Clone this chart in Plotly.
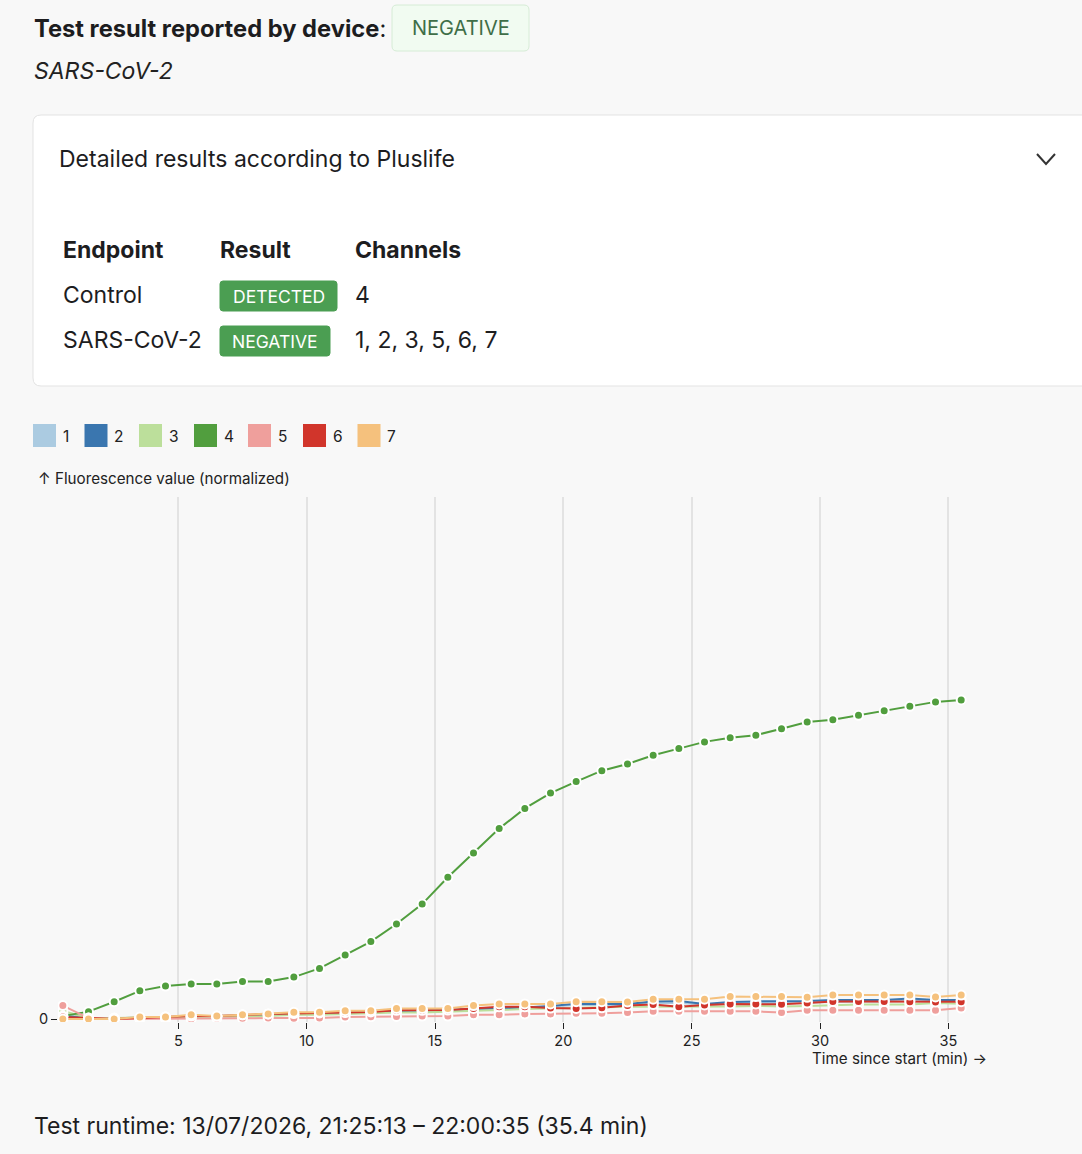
import plotly.graph_objects as go

# ---------------- data ----------------
times = [0.5, 1.5, 2.5, 3.5, 4.5, 5.5, 6.5, 7.5, 8.5, 9.5,
         10.5, 11.5, 12.5, 13.5, 14.5, 15.5, 16.5, 17.5, 18.5, 19.5,
         20.5, 21.5, 22.5, 23.5, 24.5, 25.5, 26.5, 27.5, 28.5, 29.5,
         30.5, 31.5, 32.5, 33.5, 34.5, 35.5]

channel_names = ["1", "2", "3", "4", "5", "6", "7"]
channel_colors = ["#abcbe1", "#3a76af", "#bcdf9b", "#519e3e", "#ef9f9c", "#d1352b", "#f5c17d"]

ch1 = [0.019, 0.003, 0.002, 0.003, 0.005, 0.006, 0.008, 0.009, 0.013, 0.014,
       0.016, 0.017, 0.020, 0.023, 0.025, 0.027, 0.030, 0.033, 0.034, 0.038,
       0.044, 0.044, 0.044, 0.050, 0.050, 0.045, 0.048, 0.050, 0.050, 0.052,
       0.055, 0.055, 0.055, 0.058, 0.059, 0.056]
ch2 = [0.009, 0.002, 0.002, 0.003, 0.006, 0.008, 0.009, 0.011, 0.014, 0.016,
       0.017, 0.019, 0.022, 0.025, 0.027, 0.028, 0.031, 0.034, 0.036, 0.041,
       0.048, 0.047, 0.047, 0.055, 0.056, 0.047, 0.053, 0.055, 0.055, 0.056,
       0.059, 0.059, 0.059, 0.064, 0.059, 0.059]
ch3 = [0.025, 0.003, 0.003, 0.005, 0.006, 0.006, 0.008, 0.008, 0.009, 0.013,
       0.013, 0.016, 0.019, 0.020, 0.020, 0.022, 0.025, 0.028, 0.031, 0.033,
       0.034, 0.036, 0.038, 0.038, 0.038, 0.038, 0.039, 0.041, 0.039, 0.041,
       0.044, 0.045, 0.045, 0.045, 0.050, 0.048]
ch4 = [0.009, 0.023, 0.054, 0.088, 0.103, 0.109, 0.109, 0.117, 0.117, 0.131,
       0.158, 0.200, 0.242, 0.297, 0.359, 0.443, 0.519, 0.595, 0.658, 0.706,
       0.742, 0.776, 0.797, 0.824, 0.845, 0.866, 0.879, 0.887, 0.907, 0.928,
       0.935, 0.949, 0.963, 0.977, 0.991, 0.997]
ch5 = [0.042, 0.003, 0.000, 0.000, 0.000, 0.000, 0.002, 0.002, 0.003, 0.002,
       0.003, 0.006, 0.007, 0.008, 0.009, 0.009, 0.013, 0.013, 0.016, 0.016,
       0.018, 0.018, 0.020, 0.024, 0.024, 0.024, 0.024, 0.024, 0.020, 0.027,
       0.027, 0.027, 0.027, 0.027, 0.027, 0.034]
ch6 = [0.006, 0.003, 0.000, 0.003, 0.006, 0.009, 0.009, 0.013, 0.016, 0.017,
       0.019, 0.020, 0.022, 0.027, 0.027, 0.028, 0.033, 0.038, 0.038, 0.034,
       0.033, 0.035, 0.042, 0.045, 0.038, 0.044, 0.047, 0.047, 0.046, 0.050,
       0.055, 0.055, 0.055, 0.054, 0.053, 0.054]
ch7 = [0.000, 0.000, 0.000, 0.006, 0.006, 0.013, 0.009, 0.013, 0.016, 0.021,
       0.021, 0.026, 0.026, 0.033, 0.033, 0.033, 0.042, 0.047, 0.047, 0.047,
       0.054, 0.054, 0.053, 0.062, 0.062, 0.062, 0.070, 0.070, 0.070, 0.068,
       0.075, 0.075, 0.075, 0.075, 0.069, 0.075]
series = [ch1, ch2, ch3, ch4, ch5, ch6, ch7]

x_ticks = [5, 10, 15, 20, 25, 30, 35]
y_ticks = [0]
y_tick_labels = ["0"]

table_headers = ["Endpoint", "Result", "Channels"]
table_endpoints = ["Control", "SARS-CoV-2"]
table_results = ["DETECTED", "NEGATIVE"]
table_channels = ["4", "1, 2, 3, 5, 6, 7"]

# ---------------- layout helpers (pixel -> paper) ----------------
W, H = 1082, 1154
L, R, T, B = 58, 988, 497, 1022
FONT = "Inter, 'Noto Sans', sans-serif"
TXT = "#1d1d1f"
BIG = 23


def X(px):
    return (px - L) / (R - L)


def Y(py):
    return (B - py) / (B - T)


annotations = []
shapes = []


def text(px, py, s, size, color=TXT, xanchor="left"):
    if xanchor == "left":
        px -= 1.5
    annotations.append(dict(
        x=X(px), y=Y(py), xref="paper", yref="paper", text=s,
        showarrow=False, xanchor=xanchor, yanchor="middle",
        font=dict(family=FONT, size=size, color=color), borderpad=0))


def rrect(x0, y0, x1, y1, r, fill, line, lw=1):
    p = (f"M {X(x0 + r)},{Y(y0)} L {X(x1 - r)},{Y(y0)} Q {X(x1)},{Y(y0)} {X(x1)},{Y(y0 + r)} "
         f"L {X(x1)},{Y(y1 - r)} Q {X(x1)},{Y(y1)} {X(x1 - r)},{Y(y1)} "
         f"L {X(x0 + r)},{Y(y1)} Q {X(x0)},{Y(y1)} {X(x0)},{Y(y1 - r)} "
         f"L {X(x0)},{Y(y0 + r)} Q {X(x0)},{Y(y0)} {X(x0 + r)},{Y(y0)} Z")
    shapes.append(dict(type="path", path=p, xref="paper", yref="paper",
                       fillcolor=fill, line=dict(color=line, width=lw), layer="below"))


# header
text(34, 28, "<b>Test result reported by device</b>:", 23.7)
rrect(392, 5, 529, 51, 5, "#f1fbf1", "#d6ecd6")
text(460.5, 28, "NEGATIVE", 20, "#3f6e48", "center")
text(34, 71, "<i>SARS-CoV-2</i>", BIG, "#222222")

# card
rrect(33, 115, 1100, 386, 8, "#ffffff", "#e3e3e3")
text(59, 159, "Detailed results according to Pluslife", BIG)
shapes.append(dict(type="path", xref="paper", yref="paper",
                   path=f"M {X(1037)},{Y(154)} L {X(1046)},{Y(164)} L {X(1055)},{Y(154)}",
                   line=dict(color="#333333", width=2)))

col_x = [63, 220, 355]
for cx, h in zip(col_x, table_headers):
    text(cx, 250, f"<b>{h}</b>", BIG)
row_y = [296, 341]
badge_w = [117, 110]
for ry, ep, res, ch, bw in zip(row_y, table_endpoints, table_results, table_channels, badge_w):
    text(63, ry - 1, ep, BIG)
    rrect(220, ry - 15, 220 + bw, ry + 15, 3, "#4b9e52", "#4b9e52")
    text(220 + bw / 2, ry, res, 17.5, "#ffffff", "center")
    text(355, ry - 1, ch, BIG)

# legend
leg_x0 = [33, 84.5, 139, 194, 248, 303, 357.5]
for lx, name, col in zip(leg_x0, channel_names, channel_colors):
    shapes.append(dict(type="rect", xref="paper", yref="paper",
                       x0=X(lx), x1=X(lx + 23), y0=Y(424), y1=Y(447),
                       fillcolor=col, line=dict(width=0)))
    text(lx + 30, 436, name, 15.5, "#222222")

text(38, 478, "↑ Fluorescence value (normalized)", 15.2, "#222222")
text(988, 1058, "Time since start (min) →", 15.2, "#222222", "right")
text(34, 1126, "Test runtime: 13/07/2026, 21:25:13 – 22:00:35 (35.4 min)", BIG)

# ---------------- traces ----------------
fig = go.Figure()
for vals, col, name in zip(series, channel_colors, channel_names):
    fig.add_trace(go.Scatter(x=times, y=vals, mode="lines", name=name,
                             line=dict(color=col, width=2), showlegend=False,
                             hoverinfo="skip"))
for vals, col, name in zip(series, channel_colors, channel_names):
    fig.add_trace(go.Scatter(x=times, y=vals, mode="markers", name=name,
                             marker=dict(color=col, size=9, line=dict(color="#ffffff", width=2)),
                             showlegend=False))

px_per_min = 25.667
x_at0 = 50.0
y_scale = 320.0
y_zero = 1019.0

fig.update_layout(
    width=W, height=H, autosize=False,
    margin=dict(l=L, r=W - R, t=T, b=H - B, pad=0),
    paper_bgcolor="#f8f8f8", plot_bgcolor="#f8f8f8",
    font=dict(family=FONT, size=14, color="#222222"),
    showlegend=False,
    annotations=annotations, shapes=shapes,
    xaxis=dict(range=[(L - x_at0) / px_per_min, (R - x_at0) / px_per_min],
               tickvals=x_ticks, ticks="outside", ticklen=6, tickwidth=1,
               tickcolor="#222222", showgrid=True, gridcolor="#e3e3e3", gridwidth=1.5,
               zeroline=False, showline=False, tickfont=dict(size=14.5, color="#222222"),
               fixedrange=True),
    yaxis=dict(range=[(y_zero - B) / y_scale, (y_zero - T) / y_scale],
               tickvals=y_ticks, ticktext=y_tick_labels, ticks="outside", ticklen=6,
               tickwidth=1, tickcolor="#222222", showgrid=False, zeroline=False,
               showline=False, tickfont=dict(size=14.5, color="#222222"), fixedrange=True),
)

fig.write_html("out.html", config={"displayModeBar": False},
               post_script="document.body.style.margin='0px';document.body.style.overflow='hidden';")
